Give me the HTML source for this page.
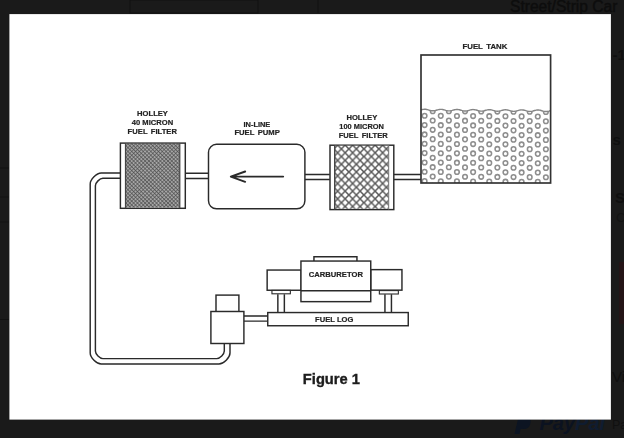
<!DOCTYPE html>
<html><head><meta charset="utf-8"><title>Figure 1</title>
<style>
html,body{margin:0;padding:0;background:#1a1a1a;}
body{width:624px;height:438px;overflow:hidden;position:relative;font-family:"Liberation Sans",sans-serif;}
svg{position:absolute;left:0;top:0;display:block;}
text{font-family:"Liberation Sans",sans-serif;font-weight:bold;fill:#222;}
.lbl{font-size:8px;text-anchor:middle;stroke:#222;stroke-width:0.2;}
.ln{fill:none;stroke:#2a2a2a;stroke-width:1.45;}
.bx{fill:#fff;stroke:#2a2a2a;stroke-width:1.45;}
</style></head>
<body>
<svg width="624" height="438" viewBox="0 0 624 438">
<defs>
<pattern id="fine" width="2.7" height="2.7" patternUnits="userSpaceOnUse" patternTransform="rotate(45)">
<rect width="2.7" height="2.7" fill="#a6a6a6"/>
<path d="M0,0H2.7M0,0V2.7" stroke="#484848" stroke-width="1.15"/>
</pattern>
<pattern id="coarse" width="7.5" height="7.68" patternUnits="userSpaceOnUse" patternTransform="translate(333.89,148.9)">
<rect width="7.5" height="7.68" fill="#fff"/>
<path d="M-7.5,-7.68L15,15.36M15,-7.68L-7.5,15.36" stroke="#585858" stroke-width="1.5"/>
</pattern>
<clipPath id="tankclip"><path d="M421.0,109.88 L421.8,109.66 L422.6,109.48 L423.4,109.34 L424.2,109.26 L425.0,109.26 L425.8,109.32 L426.6,109.46 L427.4,109.64 L428.2,109.86 L429.0,110.10 L429.8,110.33 L430.6,110.53 L431.4,110.69 L432.2,110.78 L433.0,110.80 L433.8,110.75 L434.6,110.64 L435.4,110.47 L436.2,110.26 L437.0,110.04 L437.8,109.81 L438.6,109.62 L439.4,109.47 L440.2,109.38 L441.0,109.36 L441.8,109.41 L442.6,109.53 L443.4,109.70 L444.2,109.92 L445.0,110.16 L445.8,110.39 L446.6,110.60 L447.4,110.77 L448.2,110.87 L449.0,110.91 L449.8,110.88 L450.6,110.78 L451.4,110.62 L452.2,110.42 L453.0,110.19 L453.8,109.97 L454.6,109.76 L455.4,109.60 L456.2,109.50 L457.0,109.46 L457.8,109.50 L458.6,109.61 L459.4,109.77 L460.2,109.98 L461.0,110.21 L461.8,110.45 L462.6,110.66 L463.4,110.84 L464.2,110.96 L465.0,111.02 L465.8,111.00 L466.6,110.91 L467.4,110.76 L468.2,110.57 L469.0,110.35 L469.8,110.12 L470.6,109.91 L471.4,109.74 L472.2,109.62 L473.0,109.57 L473.8,109.59 L474.6,109.68 L475.4,109.84 L476.2,110.04 L477.0,110.27 L477.8,110.51 L478.6,110.73 L479.4,110.91 L480.2,111.05 L481.0,111.12 L481.8,111.11 L482.6,111.04 L483.4,110.90 L484.2,110.72 L485.0,110.50 L485.8,110.27 L486.6,110.06 L487.4,109.88 L488.2,109.75 L489.0,109.68 L489.8,109.69 L490.6,109.77 L491.4,109.91 L492.2,110.10 L493.0,110.32 L493.8,110.56 L494.6,110.79 L495.4,110.99 L496.2,111.13 L497.0,111.21 L497.8,111.23 L498.6,111.17 L499.4,111.04 L500.2,110.87 L501.0,110.66 L501.8,110.43 L502.6,110.21 L503.4,110.02 L504.2,109.88 L505.0,109.80 L505.8,109.79 L506.6,109.85 L507.4,109.98 L508.2,110.16 L509.0,110.38 L509.8,110.62 L510.6,110.85 L511.4,111.05 L512.2,111.21 L513.0,111.31 L513.8,111.34 L514.6,111.29 L515.4,111.18 L516.2,111.02 L517.0,110.81 L517.8,110.58 L518.6,110.36 L519.4,110.16 L520.2,110.01 L521.0,109.92 L521.8,109.89 L522.6,109.94 L523.4,110.05 L524.2,110.23 L525.0,110.44 L525.8,110.67 L526.6,110.91 L527.4,111.12 L528.2,111.29 L529.0,111.40 L529.8,111.44 L530.6,111.42 L531.4,111.32 L532.2,111.16 L533.0,110.96 L533.8,110.74 L534.6,110.51 L535.4,110.31 L536.2,110.15 L537.0,110.04 L537.8,110.00 L538.6,110.03 L539.4,110.13 L540.2,110.29 L541.0,110.50 L541.8,110.73 L542.6,110.97 L543.4,111.19 L544.2,111.37 L545.0,111.49 L545.8,111.55 L546.6,111.53 L547.4,111.45 L548.2,111.31 L549.0,111.11 L549.8,110.89 L550.6,110.67 L550.6,110.67 L550.6,183.0 L421.0,183.0 Z"/></clipPath>
<filter id="soft" x="-2%" y="-2%" width="104%" height="104%"><feGaussianBlur stdDeviation="0.6"/></filter>
<filter id="soft2" x="-2%" y="-2%" width="104%" height="104%"><feGaussianBlur stdDeviation="0.45"/></filter>
</defs>

<!-- dark page behind lightbox -->
<rect width="624" height="438" fill="#1a1a1a"/>
<g>
<text x="510" y="11.8" style="font-size:15.6px;font-weight:normal;fill:#0d0d0d;stroke:#0d0d0d;stroke-width:0.4">Street/Strip Car</text>
<text x="612.5" y="60" style="font-size:15px;fill:#0f0f0f">-1</text>
<text x="612.5" y="145" style="font-size:15px;fill:#0f0f0f">s</text>
<text x="615" y="203" style="font-size:15px;fill:#0f0f0f">S</text>
<text x="616" y="222" style="font-size:13px;font-weight:normal;fill:#131313">C</text>
<text x="612" y="382" style="font-size:15px;font-weight:normal;fill:#0f0f0f">Vis</text>
<path d="M518.5,417h8q5,0 4,6q-1,6 -7,6h-3l-1,5h-5z" fill="#0c1422"/>
<text x="539.5" y="429.6" style="font-size:20px;font-style:italic;fill:#0b1220">Pay<tspan fill="#0f1c30">Pal</tspan></text>
<text x="612" y="429" style="font-size:12.5px;font-weight:normal;fill:#101010">Pa</text>
</g>
<rect x="619" y="262" width="5" height="62" fill="#241416"/>
<rect x="130" y="0" width="128" height="13" fill="none" stroke="#111" stroke-width="1"/>
<line x1="318" y1="0" x2="318" y2="13" stroke="#111"/>
<line x1="0" y1="168" x2="9" y2="168" stroke="#111"/>
<line x1="0" y1="319.5" x2="9" y2="319.5" stroke="#111"/>
<line x1="0" y1="197" x2="9" y2="197" stroke="#131313"/>
<line x1="0" y1="222" x2="9" y2="222" stroke="#131313"/>

<!-- white lightbox panel -->
<rect x="9.4" y="14.1" width="601.5" height="405.5" fill="#ffffff" filter="url(#soft2)"/>

<g filter="url(#soft)">
<!-- labels -->
<text class="lbl" transform="translate(152.5,116.4) scale(0.95,1)">HOLLEY</text>
<text class="lbl" transform="translate(152.5,125.3) scale(0.95,1)">40 MICRON</text>
<text class="lbl" transform="translate(152.3,134.2) scale(0.95,1)" style="word-spacing:1.3px;letter-spacing:0.03px;">FUEL FILTER</text>

<text class="lbl" transform="translate(256.9,126.9) scale(0.93,1)">IN-LINE</text>
<text class="lbl" transform="translate(257.1,135.1) scale(0.96,1)" style="word-spacing:1.3px;">FUEL PUMP</text>

<text class="lbl" transform="translate(361.8,120.2) scale(0.95,1)">HOLLEY</text>
<text class="lbl" transform="translate(361.6,128.9) scale(0.93,1)">100 MICRON</text>
<text class="lbl" transform="translate(363.2,138.0) scale(0.95,1)" style="word-spacing:1.3px;">FUEL FILTER</text>

<text class="lbl" transform="translate(484.9,48.5) scale(0.975,1)" style="word-spacing:1.4px;">FUEL TANK</text>

<!-- pipes (double lines) -->
<path class="ln" d="M120.6,172.9 L101.20,172.90 C96.58,172.90 90.20,179.28 90.20,183.90 L90.20,353.00 C90.20,357.62 96.58,364.00 101.20,364.00 L219.00,364.00 C223.62,364.00 230.00,357.62 230.00,353.00 L230,343.5"/>
<path class="ln" d="M120.6,178.3 L102.90,178.30 C99.75,178.30 95.40,182.65 95.40,185.80 L95.40,351.10 C95.40,354.25 99.75,358.60 102.90,358.60 L216.80,358.60 C219.95,358.60 224.30,354.25 224.30,351.10 L224.3,343.5"/>
<path class="ln" d="M185.2,173.2 H208.2 M185.2,178.5 H208.2"/>
<path class="ln" d="M304.9,174.4 H329.8 M304.9,179.5 H329.8"/>
<path class="ln" d="M394,174.4 H421 M394,179.5 H421"/>
<path class="ln" d="M243.9,316 H267.4 M243.9,321.1 H267.4"/>

<!-- 40 micron filter -->
<rect class="bx" x="120.4" y="143.1" width="64.9" height="65.2"/>
<rect x="125.5" y="143.8" width="54.3" height="63.8" fill="url(#fine)"/>
<path class="ln" d="M125.5,143.3V208.3M179.8,143.3V208.3" style="stroke-width:1.2;stroke:#444"/>

<!-- pump -->
<rect class="bx" x="208.5" y="144.3" width="96.4" height="64.5" rx="8" ry="8"/>
<path class="ln" d="M231,176.6 H283.2 M245.2,171.5 L230.8,176.6 L245.2,181.8" style="stroke-width:1.9;stroke-linejoin:round;stroke-linecap:round"/>

<!-- 100 micron filter -->
<rect class="bx" x="330" y="145.2" width="63.8" height="64.4"/>
<rect x="334.7" y="145.7" width="54" height="63.1" fill="url(#coarse)"/>
<path class="ln" d="M334.7,145V209.5" style="stroke-width:1.4;stroke:#444"/>
<path class="ln" d="M388.7,145V209.5" style="stroke-width:1;stroke:#777"/>

<!-- tank -->
<g clip-path="url(#tankclip)" fill="none" stroke="#8e8e8e" stroke-width="1.55"><circle cx="424.60" cy="106.41" r="2.3"/><circle cx="440.77" cy="106.52" r="2.3"/><circle cx="456.94" cy="106.62" r="2.3"/><circle cx="473.11" cy="106.73" r="2.3"/><circle cx="489.28" cy="106.84" r="2.3"/><circle cx="505.45" cy="106.94" r="2.3"/><circle cx="521.62" cy="107.05" r="2.3"/><circle cx="537.79" cy="107.16" r="2.3"/><circle cx="553.96" cy="107.26" r="2.3"/><circle cx="432.69" cy="111.13" r="2.3"/><circle cx="448.86" cy="111.24" r="2.3"/><circle cx="465.02" cy="111.35" r="2.3"/><circle cx="481.19" cy="111.45" r="2.3"/><circle cx="497.37" cy="111.56" r="2.3"/><circle cx="513.53" cy="111.67" r="2.3"/><circle cx="529.71" cy="111.77" r="2.3"/><circle cx="545.88" cy="111.88" r="2.3"/><circle cx="424.60" cy="115.75" r="2.3"/><circle cx="440.77" cy="115.86" r="2.3"/><circle cx="456.94" cy="115.96" r="2.3"/><circle cx="473.11" cy="116.07" r="2.3"/><circle cx="489.28" cy="116.18" r="2.3"/><circle cx="505.45" cy="116.28" r="2.3"/><circle cx="521.62" cy="116.39" r="2.3"/><circle cx="537.79" cy="116.50" r="2.3"/><circle cx="553.96" cy="116.60" r="2.3"/><circle cx="432.69" cy="120.47" r="2.3"/><circle cx="448.86" cy="120.58" r="2.3"/><circle cx="465.02" cy="120.69" r="2.3"/><circle cx="481.19" cy="120.79" r="2.3"/><circle cx="497.37" cy="120.90" r="2.3"/><circle cx="513.53" cy="121.01" r="2.3"/><circle cx="529.71" cy="121.11" r="2.3"/><circle cx="545.88" cy="121.22" r="2.3"/><circle cx="424.60" cy="125.09" r="2.3"/><circle cx="440.77" cy="125.20" r="2.3"/><circle cx="456.94" cy="125.30" r="2.3"/><circle cx="473.11" cy="125.41" r="2.3"/><circle cx="489.28" cy="125.52" r="2.3"/><circle cx="505.45" cy="125.62" r="2.3"/><circle cx="521.62" cy="125.73" r="2.3"/><circle cx="537.79" cy="125.84" r="2.3"/><circle cx="553.96" cy="125.94" r="2.3"/><circle cx="432.69" cy="129.81" r="2.3"/><circle cx="448.86" cy="129.92" r="2.3"/><circle cx="465.02" cy="130.03" r="2.3"/><circle cx="481.19" cy="130.13" r="2.3"/><circle cx="497.37" cy="130.24" r="2.3"/><circle cx="513.53" cy="130.35" r="2.3"/><circle cx="529.71" cy="130.45" r="2.3"/><circle cx="545.88" cy="130.56" r="2.3"/><circle cx="424.60" cy="134.43" r="2.3"/><circle cx="440.77" cy="134.54" r="2.3"/><circle cx="456.94" cy="134.64" r="2.3"/><circle cx="473.11" cy="134.75" r="2.3"/><circle cx="489.28" cy="134.86" r="2.3"/><circle cx="505.45" cy="134.96" r="2.3"/><circle cx="521.62" cy="135.07" r="2.3"/><circle cx="537.79" cy="135.18" r="2.3"/><circle cx="553.96" cy="135.28" r="2.3"/><circle cx="432.69" cy="139.15" r="2.3"/><circle cx="448.86" cy="139.26" r="2.3"/><circle cx="465.02" cy="139.37" r="2.3"/><circle cx="481.19" cy="139.47" r="2.3"/><circle cx="497.37" cy="139.58" r="2.3"/><circle cx="513.53" cy="139.69" r="2.3"/><circle cx="529.71" cy="139.79" r="2.3"/><circle cx="545.88" cy="139.90" r="2.3"/><circle cx="424.60" cy="143.77" r="2.3"/><circle cx="440.77" cy="143.88" r="2.3"/><circle cx="456.94" cy="143.98" r="2.3"/><circle cx="473.11" cy="144.09" r="2.3"/><circle cx="489.28" cy="144.20" r="2.3"/><circle cx="505.45" cy="144.30" r="2.3"/><circle cx="521.62" cy="144.41" r="2.3"/><circle cx="537.79" cy="144.52" r="2.3"/><circle cx="553.96" cy="144.62" r="2.3"/><circle cx="432.69" cy="148.49" r="2.3"/><circle cx="448.86" cy="148.60" r="2.3"/><circle cx="465.02" cy="148.71" r="2.3"/><circle cx="481.19" cy="148.81" r="2.3"/><circle cx="497.37" cy="148.92" r="2.3"/><circle cx="513.53" cy="149.03" r="2.3"/><circle cx="529.71" cy="149.13" r="2.3"/><circle cx="545.88" cy="149.24" r="2.3"/><circle cx="424.60" cy="153.11" r="2.3"/><circle cx="440.77" cy="153.22" r="2.3"/><circle cx="456.94" cy="153.32" r="2.3"/><circle cx="473.11" cy="153.43" r="2.3"/><circle cx="489.28" cy="153.54" r="2.3"/><circle cx="505.45" cy="153.64" r="2.3"/><circle cx="521.62" cy="153.75" r="2.3"/><circle cx="537.79" cy="153.86" r="2.3"/><circle cx="553.96" cy="153.96" r="2.3"/><circle cx="432.69" cy="157.83" r="2.3"/><circle cx="448.86" cy="157.94" r="2.3"/><circle cx="465.02" cy="158.05" r="2.3"/><circle cx="481.19" cy="158.15" r="2.3"/><circle cx="497.37" cy="158.26" r="2.3"/><circle cx="513.53" cy="158.37" r="2.3"/><circle cx="529.71" cy="158.47" r="2.3"/><circle cx="545.88" cy="158.58" r="2.3"/><circle cx="424.60" cy="162.45" r="2.3"/><circle cx="440.77" cy="162.56" r="2.3"/><circle cx="456.94" cy="162.66" r="2.3"/><circle cx="473.11" cy="162.77" r="2.3"/><circle cx="489.28" cy="162.88" r="2.3"/><circle cx="505.45" cy="162.98" r="2.3"/><circle cx="521.62" cy="163.09" r="2.3"/><circle cx="537.79" cy="163.20" r="2.3"/><circle cx="553.96" cy="163.30" r="2.3"/><circle cx="432.69" cy="167.17" r="2.3"/><circle cx="448.86" cy="167.28" r="2.3"/><circle cx="465.02" cy="167.39" r="2.3"/><circle cx="481.19" cy="167.49" r="2.3"/><circle cx="497.37" cy="167.60" r="2.3"/><circle cx="513.53" cy="167.71" r="2.3"/><circle cx="529.71" cy="167.81" r="2.3"/><circle cx="545.88" cy="167.92" r="2.3"/><circle cx="424.60" cy="171.79" r="2.3"/><circle cx="440.77" cy="171.90" r="2.3"/><circle cx="456.94" cy="172.00" r="2.3"/><circle cx="473.11" cy="172.11" r="2.3"/><circle cx="489.28" cy="172.22" r="2.3"/><circle cx="505.45" cy="172.32" r="2.3"/><circle cx="521.62" cy="172.43" r="2.3"/><circle cx="537.79" cy="172.54" r="2.3"/><circle cx="553.96" cy="172.64" r="2.3"/><circle cx="432.69" cy="176.51" r="2.3"/><circle cx="448.86" cy="176.62" r="2.3"/><circle cx="465.02" cy="176.73" r="2.3"/><circle cx="481.19" cy="176.83" r="2.3"/><circle cx="497.37" cy="176.94" r="2.3"/><circle cx="513.53" cy="177.05" r="2.3"/><circle cx="529.71" cy="177.15" r="2.3"/><circle cx="545.88" cy="177.26" r="2.3"/><circle cx="424.60" cy="181.13" r="2.3"/><circle cx="440.77" cy="181.24" r="2.3"/><circle cx="456.94" cy="181.34" r="2.3"/><circle cx="473.11" cy="181.45" r="2.3"/><circle cx="489.28" cy="181.56" r="2.3"/><circle cx="505.45" cy="181.66" r="2.3"/><circle cx="521.62" cy="181.77" r="2.3"/><circle cx="537.79" cy="181.88" r="2.3"/><circle cx="553.96" cy="181.98" r="2.3"/><circle cx="432.69" cy="185.85" r="2.3"/><circle cx="448.86" cy="185.96" r="2.3"/><circle cx="465.02" cy="186.07" r="2.3"/><circle cx="481.19" cy="186.17" r="2.3"/><circle cx="497.37" cy="186.28" r="2.3"/><circle cx="513.53" cy="186.39" r="2.3"/><circle cx="529.71" cy="186.49" r="2.3"/><circle cx="545.88" cy="186.60" r="2.3"/></g>
<path d="M421.0,109.88 L421.8,109.66 L422.6,109.48 L423.4,109.34 L424.2,109.26 L425.0,109.26 L425.8,109.32 L426.6,109.46 L427.4,109.64 L428.2,109.86 L429.0,110.10 L429.8,110.33 L430.6,110.53 L431.4,110.69 L432.2,110.78 L433.0,110.80 L433.8,110.75 L434.6,110.64 L435.4,110.47 L436.2,110.26 L437.0,110.04 L437.8,109.81 L438.6,109.62 L439.4,109.47 L440.2,109.38 L441.0,109.36 L441.8,109.41 L442.6,109.53 L443.4,109.70 L444.2,109.92 L445.0,110.16 L445.8,110.39 L446.6,110.60 L447.4,110.77 L448.2,110.87 L449.0,110.91 L449.8,110.88 L450.6,110.78 L451.4,110.62 L452.2,110.42 L453.0,110.19 L453.8,109.97 L454.6,109.76 L455.4,109.60 L456.2,109.50 L457.0,109.46 L457.8,109.50 L458.6,109.61 L459.4,109.77 L460.2,109.98 L461.0,110.21 L461.8,110.45 L462.6,110.66 L463.4,110.84 L464.2,110.96 L465.0,111.02 L465.8,111.00 L466.6,110.91 L467.4,110.76 L468.2,110.57 L469.0,110.35 L469.8,110.12 L470.6,109.91 L471.4,109.74 L472.2,109.62 L473.0,109.57 L473.8,109.59 L474.6,109.68 L475.4,109.84 L476.2,110.04 L477.0,110.27 L477.8,110.51 L478.6,110.73 L479.4,110.91 L480.2,111.05 L481.0,111.12 L481.8,111.11 L482.6,111.04 L483.4,110.90 L484.2,110.72 L485.0,110.50 L485.8,110.27 L486.6,110.06 L487.4,109.88 L488.2,109.75 L489.0,109.68 L489.8,109.69 L490.6,109.77 L491.4,109.91 L492.2,110.10 L493.0,110.32 L493.8,110.56 L494.6,110.79 L495.4,110.99 L496.2,111.13 L497.0,111.21 L497.8,111.23 L498.6,111.17 L499.4,111.04 L500.2,110.87 L501.0,110.66 L501.8,110.43 L502.6,110.21 L503.4,110.02 L504.2,109.88 L505.0,109.80 L505.8,109.79 L506.6,109.85 L507.4,109.98 L508.2,110.16 L509.0,110.38 L509.8,110.62 L510.6,110.85 L511.4,111.05 L512.2,111.21 L513.0,111.31 L513.8,111.34 L514.6,111.29 L515.4,111.18 L516.2,111.02 L517.0,110.81 L517.8,110.58 L518.6,110.36 L519.4,110.16 L520.2,110.01 L521.0,109.92 L521.8,109.89 L522.6,109.94 L523.4,110.05 L524.2,110.23 L525.0,110.44 L525.8,110.67 L526.6,110.91 L527.4,111.12 L528.2,111.29 L529.0,111.40 L529.8,111.44 L530.6,111.42 L531.4,111.32 L532.2,111.16 L533.0,110.96 L533.8,110.74 L534.6,110.51 L535.4,110.31 L536.2,110.15 L537.0,110.04 L537.8,110.00 L538.6,110.03 L539.4,110.13 L540.2,110.29 L541.0,110.50 L541.8,110.73 L542.6,110.97 L543.4,111.19 L544.2,111.37 L545.0,111.49 L545.8,111.55 L546.6,111.53 L547.4,111.45 L548.2,111.31 L549.0,111.11 L549.8,110.89 L550.6,110.67 L550.6,110.67" fill="none" stroke="#858585" stroke-width="1.4"/>
<rect x="421.0" y="55.0" width="129.6" height="128.0" fill="none" stroke="#303030" stroke-width="1.65"/>

<!-- regulator -->
<rect class="bx" x="216" y="295.1" width="22.9" height="16.6"/>
<rect class="bx" x="210.9" y="311.5" width="33" height="32"/>

<!-- carburetor -->
<g transform="translate(0.35,0.35)">
<path class="ln" d="M313.6,260.7 V256.3 H356.6 V260.7"/>
<rect class="bx" x="266.8" y="269.7" width="34" height="20.2"/>
<rect class="bx" x="370.4" y="269.3" width="31.2" height="20.5"/>
<rect class="bx" x="300.6" y="260.7" width="69.8" height="40.6"/>
<path class="ln" d="M300.6,290.4 H370.4"/>
<!-- feet -->
<rect class="bx" x="271.6" y="290.05" width="18.4" height="3.4" style="stroke-width:1.1"/>
<path class="ln" d="M277.5,294 V312.4 M284,294 V312.4"/>
<rect class="bx" x="379" y="290.25" width="19" height="3.4" style="stroke-width:1.1"/>
<path class="ln" d="M384.6,294 V312.4 M391.1,294 V312.4"/>
<!-- fuel log -->
<rect class="bx" x="267.4" y="312.2" width="140.5" height="13.2"/>
<text class="lbl" transform="translate(335.5,276.7) scale(0.955,1)">CARBURETOR</text>
<text class="lbl" transform="translate(333.9,321.9) scale(0.95,1)">FUEL LOG</text>
</g>

<text x="331.4" y="383.7" style="font-size:14.7px;text-anchor:middle;fill:#1c1c1c;stroke:#1c1c1c;stroke-width:0.35">Figure 1</text>
</g>
</svg>
</body></html>
